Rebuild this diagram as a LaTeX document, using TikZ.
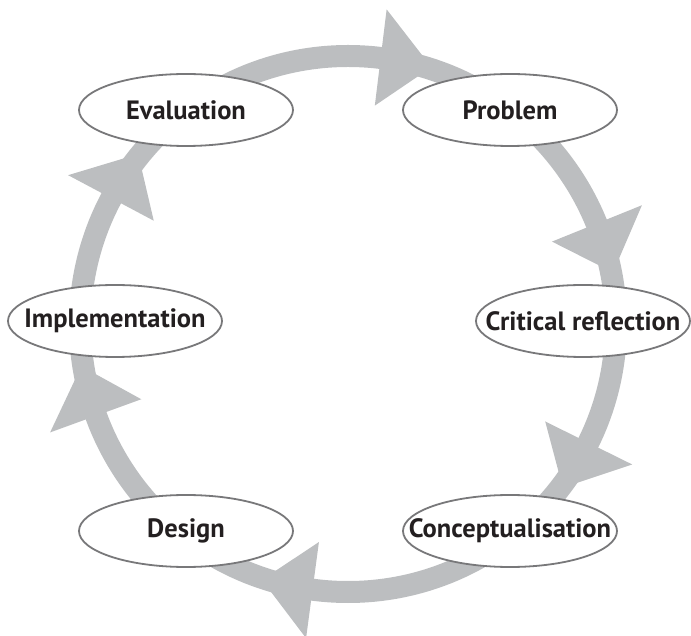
\documentclass[tikz,border=0pt]{standalone}
\usepackage{fontspec}
\setmainfont{PT Sans}
\usetikzlibrary{shapes.geometric}
\definecolor{ringgray}{RGB}{188,190,192}
\definecolor{edgegray}{RGB}{120,120,122}
\definecolor{textblack}{RGB}{35,31,32}
\newcommand{\stagetext}[1]{\makebox[0pt]{#1}}
\tikzset{
  stage/.style={ellipse, draw=edgegray, line width=1.8pt, fill=white,
    minimum width=214pt, minimum height=72pt, inner sep=0pt,
    font=\fontsize{26.5}{30}\selectfont\bfseries, text=textblack},
  ring/.style={draw=ringgray, line width=22pt},
  head/.style={fill=ringgray}
}
\begin{document}
\begin{tikzpicture}[x=1pt,y=1pt]
\useasboundingbox (0,0) rectangle (691,635);
\coordinate (C) at (348,311);
\draw[ring] (C) circle (268);
\foreach \a in {83,22,-26.3,-97.6,-160,152}{
  \fill[head,shift={(C)}] (\a:220) -- (\a:317) -- (\a-11:270) -- cycle;
}
\node[stage] (eval) at (186,525) {\stagetext{Evaluation}};
\node[stage] (prob) at (510,525) {\stagetext{Problem}};
\node[stage] (impl) at (115,314) {\stagetext{Implementation}};
\node[stage] (crit) at (583,314) {\stagetext{Critical reflection}};
\node[stage] (des) at (186,104) {\stagetext{Design}};
\node[stage] (conc) at (510,104) {\stagetext{Conceptualisation}};
\end{tikzpicture}
\end{document}
